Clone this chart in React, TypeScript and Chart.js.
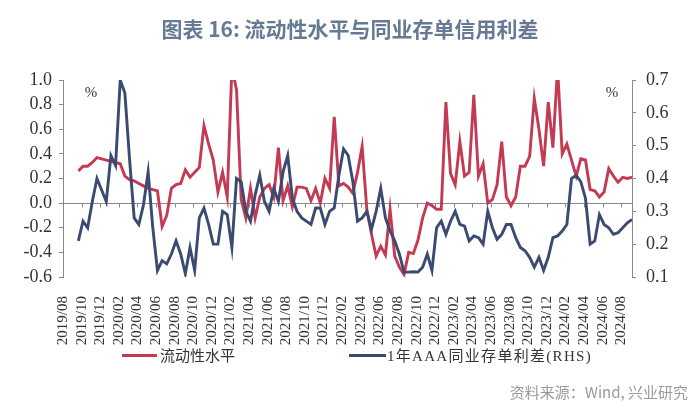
import React, { useEffect, useRef } from 'react';
import { Chart, registerables } from 'chart.js';

Chart.register(...registerables);

// x positions: months after 2019/08, first observation offset and sampling step
const FIRST_OBS_MONTH = 1.65;
const STEP_MONTHS = 0.5;
const X_MAX_MONTH = 61.15;

const xTickLabels = [
  '2019/08', '2019/10', '2019/12', '2020/02', '2020/04', '2020/06', '2020/08', '2020/10',
  '2020/12', '2021/02', '2021/04', '2021/06', '2021/08', '2021/10', '2021/12', '2022/02',
  '2022/04', '2022/06', '2022/08', '2022/10', '2022/12', '2023/02', '2023/04', '2023/06',
  '2023/08', '2023/10', '2023/12', '2024/02', '2024/04', '2024/06', '2024/08',
];

// 流动性水平 (left axis, %)
const liquidity = [
  0.26, 0.30, 0.30, 0.33, 0.37, 0.36, 0.35, 0.34, 0.33, 0.32,
  0.22, 0.19, 0.18, 0.16, 0.14, 0.12, 0.11, 0.10, -0.19, -0.10,
  0.12, 0.15, 0.16, 0.27, 0.21, 0.25, 0.29, 0.63, 0.48, 0.35,
  0.09, 0.25, 0.05, 1.10, 0.92, 0.03, -0.12, 0.12, -0.12, 0.05,
  0.12, 0.15, 0.05, 0.45, 0.02, 0.14, -0.03, 0.13, 0.13, 0.12,
  0.02, 0.12, 0.00, 0.20, 0.12, 0.70, 0.14, 0.16, 0.13, 0.08,
  0.25, 0.46, -0.05, -0.25, -0.43, -0.35, -0.42, -0.05, -0.43, -0.52,
  -0.58, -0.40, -0.41, -0.30, -0.12, 0.00, -0.02, -0.05, -0.05, 0.82,
  0.24, 0.15, 0.50, 0.22, 0.25, 0.88, 0.22, 0.32, 0.00, 0.03,
  0.15, 0.50, 0.05, -0.02, 0.05, 0.30, 0.30, 0.38, 0.85, 0.60,
  0.30, 0.82, 0.45, 1.10, 0.40, 0.48, 0.35, 0.22, 0.36, 0.35,
  0.11, 0.10, 0.05, 0.09, 0.28, 0.22, 0.17, 0.21, 0.20, 0.21,
];

// 1年AAA同业存单利差 (right axis, %)
const ncdSpread = [
  0.21, 0.27, 0.25, 0.33, 0.40, 0.365, 0.33, 0.47, 0.44, 0.70,
  0.66, 0.46, 0.28, 0.26, 0.32, 0.42, 0.25, 0.12, 0.15, 0.14,
  0.17, 0.21, 0.17, 0.11, 0.19, 0.12, 0.28, 0.31, 0.26, 0.20,
  0.20, 0.30, 0.29, 0.19, 0.40, 0.39, 0.30, 0.27, 0.35, 0.41,
  0.33, 0.30, 0.37, 0.33, 0.42, 0.47, 0.34, 0.30, 0.28, 0.27,
  0.26, 0.31, 0.31, 0.26, 0.30, 0.31, 0.41, 0.49, 0.47, 0.39,
  0.27, 0.28, 0.30, 0.245, 0.30, 0.37, 0.28, 0.24, 0.21, 0.17,
  0.115, 0.115, 0.116, 0.115, 0.13, 0.17, 0.12, 0.25, 0.27, 0.23,
  0.27, 0.30, 0.26, 0.255, 0.21, 0.225, 0.22, 0.20, 0.30, 0.25,
  0.215, 0.23, 0.26, 0.26, 0.22, 0.19, 0.18, 0.16, 0.13, 0.16,
  0.12, 0.16, 0.22, 0.225, 0.24, 0.26, 0.40, 0.41, 0.39, 0.34,
  0.20, 0.21, 0.29, 0.26, 0.25, 0.23, 0.235, 0.25, 0.265, 0.275,
];

const RED = '#c43a52';
const BLUE = '#3a4a70';
const AXIS = '#8a8a8a';
const TEXT = '#333333';
const SERIF = '"Liberation Serif", "Times New Roman", serif';

const toPoints = (vals: number[]) =>
  vals.map((v, i) => ({ x: FIRST_OBS_MONTH + i * STEP_MONTHS, y: v }));

const fmt1 = (v: number) => (Math.abs(v) < 1e-9 ? '0.0' : Number(v).toFixed(1));

const decor = {
  id: 'decor',
  beforeDatasetsDraw(chart: any) {
    const { ctx, chartArea, scales } = chart;
    const y0 = Math.round(scales.yL.getPixelForValue(0)) + 0.5;
    ctx.save();
    ctx.strokeStyle = AXIS;
    ctx.lineWidth = 1;
    ctx.beginPath();
    ctx.moveTo(chartArea.left, y0);
    ctx.lineTo(chartArea.right, y0);
    scales.x.ticks.forEach((t: any) => {
      const px = Math.round(scales.x.getPixelForValue(t.value)) + 0.5;
      ctx.moveTo(px, y0);
      ctx.lineTo(px, y0 + 4);
    });
    ctx.stroke();
    ctx.restore();
  },
  afterDraw(chart: any) {
    const { ctx, chartArea } = chart;
    ctx.save();
    ctx.font = `15px ${SERIF}`;
    ctx.fillStyle = TEXT;
    ctx.textAlign = 'center';
    ctx.textBaseline = 'middle';
    ctx.fillText('%', chartArea.left + 28, chartArea.top + 13);
    ctx.fillText('%', chartArea.right - 20, chartArea.top + 13);
    ctx.restore();
  },
};

export default function App() {
  const canvasRef = useRef<HTMLCanvasElement | null>(null);

  useEffect(() => {
    document.body.style.margin = '0';
    const canvas = canvasRef.current;
    if (!canvas) return;
    const chart = new Chart(canvas, {
      type: 'line',
      data: {
        datasets: [
          {
            label: '流动性水平',
            data: toPoints(liquidity),
            yAxisID: 'yL',
            borderColor: RED,
            borderWidth: 2.9,
            pointRadius: 0,
            tension: 0,
            order: 2,
          },
          {
            label: '1年AAA同业存单利差(RHS)',
            data: toPoints(ncdSpread),
            yAxisID: 'yR',
            borderColor: BLUE,
            borderWidth: 2.9,
            pointRadius: 0,
            tension: 0,
            order: 1,
          },
        ],
      },
      options: {
        animation: false,
        responsive: false,
        layout: { padding: { top: 80, bottom: 59, left: 0, right: 0 } },
        plugins: {
          legend: { display: false },
          tooltip: { enabled: false },
          title: { display: false },
        },
        scales: {
          x: {
            type: 'linear',
            min: 0,
            max: X_MAX_MONTH,
            afterFit: (s: any) => { s.height = 75; },
            grid: { display: false },
            border: { display: false },
            ticks: {
              stepSize: 2,
              includeBounds: false,
              autoSkip: false,
              maxRotation: 90,
              minRotation: 90,
              padding: 11,
              color: TEXT,
              font: { family: SERIF, size: 15 },
              callback: (v: any) => xTickLabels[Math.round(Number(v) / 2)] ?? '',
            },
          },
          yL: {
            position: 'left',
            min: -0.6,
            max: 1.0,
            afterFit: (s: any) => { s.width = 63; },
            grid: { drawOnChartArea: false, drawTicks: true, tickLength: 4, color: AXIS },
            border: { display: true, color: AXIS, width: 1 },
            ticks: {
              stepSize: 0.2,
              padding: 7,
              color: TEXT,
              font: { family: SERIF, size: 18 },
              callback: (v: any) => fmt1(Number(v)),
            },
          },
          yR: {
            position: 'right',
            min: 0.1,
            max: 0.7,
            afterFit: (s: any) => { s.width = 68; },
            grid: { drawOnChartArea: false, drawTicks: true, tickLength: 4, color: AXIS },
            border: { display: true, color: AXIS, width: 1 },
            ticks: {
              stepSize: 0.1,
              padding: 10,
              color: TEXT,
              font: { family: SERIF, size: 18 },
              callback: (v: any) => fmt1(Number(v)),
            },
          },
        },
      } as any,
      plugins: [decor],
    });
    return () => chart.destroy();
  }, []);

  return (
    <div style={{ position: 'relative', width: 700, height: 411, background: '#fff', overflow: 'hidden' }}>
      <canvas ref={canvasRef} width={700} height={411} style={{ position: 'absolute', left: 0, top: 0, width: 700, height: 411 }} />
      <div
        style={{
          position: 'absolute', left: 0, top: 16, width: 700, textAlign: 'center',
          fontFamily: '"Noto Sans CJK SC", "Noto Sans", sans-serif', fontWeight: 700,
          fontSize: 21, lineHeight: '24px', color: '#667a94',
        }}
      >
        图表 16: 流动性水平与同业存单信用利差
      </div>
      <div style={{ position: 'absolute', left: 122, top: 354, width: 35, height: 3, background: RED }} />
      <div
        style={{
          position: 'absolute', left: 160, top: 347, fontSize: 15, lineHeight: '18px', color: TEXT,
          fontFamily: `${SERIF}, "Noto Sans CJK SC"`, whiteSpace: 'nowrap',
        }}
      >
        流动性水平
      </div>
      <div style={{ position: 'absolute', left: 349, top: 354, width: 37, height: 3, background: BLUE }} />
      <div
        style={{
          position: 'absolute', left: 387, top: 347, fontSize: 15, lineHeight: '18px', color: TEXT,
          fontFamily: `${SERIF}, "Noto Sans CJK SC"`, whiteSpace: 'nowrap', letterSpacing: '1.3px',
        }}
      >
        1年AAA同业存单利差(RHS)
      </div>
      <div
        style={{
          position: 'absolute', right: 12, top: 382, fontSize: 15, lineHeight: '20px', color: '#9a9a9a',
          fontFamily: '"Noto Sans CJK SC", "Noto Sans", sans-serif', whiteSpace: 'nowrap',
        }}
      >
        资料来源：Wind, 兴业研究
      </div>
    </div>
  );
}
